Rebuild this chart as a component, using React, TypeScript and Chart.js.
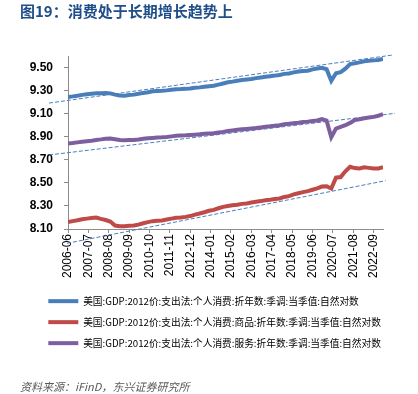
import React, { useEffect, useRef } from "react";
import { Chart, registerables } from "chart.js";

Chart.register(...registerables);

// Quarterly observations, 2006Q2 .. 2023Q1 (68 quarters); x = months since 2006-06
const startYear = 2006;
const startMonth = 6;
const quarterCount = 68;
const quarterMonths: number[] = Array.from({ length: quarterCount }, (_, i) => i * 3);

// ln of real PCE (2012 dollars)
const totalPCE: number[] = [
  9.245, 9.25, 9.256, 9.263, 9.268, 9.273, 9.277, 9.278, 9.28, 9.276,
  9.265, 9.258, 9.256, 9.262, 9.265, 9.272, 9.28, 9.286, 9.294, 9.297,
  9.298, 9.302, 9.307, 9.312, 9.313, 9.315, 9.318, 9.325, 9.328, 9.333,
  9.338, 9.342, 9.352, 9.362, 9.372, 9.378, 9.385, 9.392, 9.396, 9.4,
  9.408, 9.414, 9.42, 9.425, 9.43, 9.436, 9.445, 9.449, 9.458, 9.465,
  9.47, 9.472, 9.484, 9.491, 9.497, 9.485, 9.385, 9.45, 9.46, 9.49,
  9.53, 9.537, 9.545, 9.555, 9.558, 9.562, 9.566, 9.575,
];

const goodsPCE: number[] = [
  8.16, 8.168, 8.176, 8.185, 8.19, 8.195, 8.2, 8.188, 8.178, 8.165,
  8.13, 8.124, 8.124, 8.128, 8.13, 8.138, 8.15, 8.16, 8.168, 8.172,
  8.174, 8.182, 8.19, 8.198, 8.2, 8.205, 8.212, 8.225, 8.234, 8.245,
  8.258, 8.266, 8.28, 8.292, 8.3, 8.305, 8.31, 8.318, 8.322, 8.33,
  8.336, 8.342, 8.35, 8.354, 8.36, 8.365, 8.378, 8.385, 8.4, 8.41,
  8.42, 8.428, 8.44, 8.452, 8.468, 8.47, 8.45, 8.545, 8.55, 8.6,
  8.64, 8.628, 8.625, 8.635, 8.63, 8.625, 8.625, 8.635,
];

const servicesPCE: number[] = [
  8.842, 8.846, 8.851, 8.856, 8.861, 8.866, 8.872, 8.877, 8.883, 8.884,
  8.878, 8.872, 8.87, 8.871, 8.872, 8.876, 8.882, 8.887, 8.89, 8.893,
  8.895, 8.898, 8.903, 8.908, 8.91, 8.912, 8.915, 8.918, 8.921, 8.925,
  8.928, 8.93, 8.936, 8.942, 8.95, 8.955, 8.96, 8.964, 8.968, 8.972,
  8.976, 8.981, 8.986, 8.99, 8.995, 9.0, 9.008, 9.012, 9.017, 9.022,
  9.028, 9.031, 9.036, 9.041, 9.052, 9.04, 8.895, 8.97, 8.985, 9.0,
  9.02, 9.045, 9.052, 9.06, 9.066, 9.072, 9.082, 9.095,
];

// Trend lines: [month, value] endpoints
const trendTotal: number[][] = [[-12.1, 9.192], [207.4, 9.609]];
const trendServices: number[][] = [[-12.1, 8.742], [208.7, 9.103]];
const trendGoods: number[][] = [[-0.6, 7.976], [202.7, 8.519]];

const seriesNames: string[] = [
  "美国:GDP:2012价:支出法:个人消费:折年数:季调:当季值:自然对数",
  "美国:GDP:2012价:支出法:个人消费:商品:折年数:季调:当季值:自然对数",
  "美国:GDP:2012价:支出法:个人消费:服务:折年数:季调:当季值:自然对数",
];

const xTickMonths: number[] = [0, 13, 26, 39, 52, 65, 78, 91, 104, 117, 130, 143, 156, 169, 182, 195];
const yTickValues: number[] = [8.1, 8.3, 8.5, 8.7, 8.9, 9.1, 9.3, 9.5];

const titleText = "图19：消费处于长期增长趋势上";
const sourceText = "资料来源：iFinD，东兴证券研究所";

function monthLabel(m: number): string {
  const total = startMonth - 1 + m;
  const y = startYear + Math.floor(total / 12);
  const mo = (total % 12) + 1;
  return `${y}-${mo < 10 ? "0" + mo : mo}`;
}

function toPoints(vals: number[]) {
  return vals.map((v, i) => ({ x: quarterMonths[i], y: v }));
}

const legendShift = {
  id: "legendShift",
  afterLayout(chart: any) {
    if (chart.legend) {
      chart.legend.left = 37;
    }
  },
};

export default function App() {
  const ref = useRef<HTMLCanvasElement | null>(null);

  useEffect(() => {
    if (!ref.current) return;
    const trendStyle = {
      borderColor: "#4A7EBB",
      borderWidth: 1,
      borderDash: [4, 2],
      pointRadius: 0,
      fill: false,
      clip: false as any,
    };
    const chart = new Chart(ref.current, {
      type: "line",
      data: {
        datasets: [
          {
            label: seriesNames[0],
            data: toPoints(totalPCE),
            borderColor: "#4A7EBB",
            backgroundColor: "#4A7EBB",
            borderWidth: 4,
            pointRadius: 0,
            tension: 0,
          },
          {
            label: seriesNames[1],
            data: toPoints(goodsPCE),
            borderColor: "#BE4B48",
            backgroundColor: "#BE4B48",
            borderWidth: 4,
            pointRadius: 0,
            tension: 0,
          },
          {
            label: seriesNames[2],
            data: toPoints(servicesPCE),
            borderColor: "#7D5FA0",
            backgroundColor: "#7D5FA0",
            borderWidth: 4,
            pointRadius: 0,
            tension: 0,
          },
          { label: "trend1", data: trendTotal.map(([x, y]) => ({ x, y })), ...trendStyle },
          { label: "trend2", data: trendServices.map(([x, y]) => ({ x, y })), ...trendStyle },
          { label: "trend3", data: trendGoods.map(([x, y]) => ({ x, y })), ...trendStyle },
        ],
      },
      options: {
        responsive: false,
        animation: false,
        layout: { padding: { top: 56, left: 28, right: 0, bottom: 36 } },
        scales: {
          x: {
            type: "linear",
            min: 0,
            max: 201,
            afterBuildTicks: (s: any) => {
              s.ticks = xTickMonths.map((v) => ({ value: v }));
            },
            afterFit: (s: any) => {
              s.height = 56;
            },
            ticks: {
              autoSkip: false,
              minRotation: 90,
              maxRotation: 90,
              padding: 1,
              color: "#000",
              font: { family: "'Liberation Sans', Arial, sans-serif", size: 12 },
              callback: (v: any) => monthLabel(Number(v)),
            },
            grid: { drawOnChartArea: false, tickLength: 4, color: "#8c8c8c" },
            border: { display: true, color: "#8c8c8c", width: 1 },
          },
          y: {
            type: "linear",
            min: 8.1,
            max: 9.6,
            afterBuildTicks: (s: any) => {
              s.ticks = yTickValues.map((v) => ({ value: v }));
            },
            afterFit: (s: any) => {
              s.width = 40;
            },
            ticks: {
              padding: 11,
              color: "#000",
              font: { family: "'Liberation Sans', Arial, sans-serif", size: 12, weight: "bold" },
              callback: (v: any) => Number(v).toFixed(2),
            },
            grid: { drawOnChartArea: false, tickLength: 4, color: "#8c8c8c" },
            border: { display: true, color: "#8c8c8c", width: 1 },
          },
          yRightSpacer: {
            type: "linear",
            position: "right",
            display: true,
            min: 0,
            max: 1,
            afterFit: (s: any) => {
              s.width = 35;
            },
            ticks: { display: false },
            grid: { display: false, drawTicks: false },
            border: { display: false },
          },
        },
        plugins: {
          tooltip: { enabled: false },
          legend: {
            position: "bottom",
            align: "start",
            labels: {
              filter: (item: any) => item.datasetIndex < 3,
              usePointStyle: true,
              pointStyle: "line",
              pointStyleWidth: 30,
              padding: 11.3,
              color: "#000",
              font: { family: "'Noto Sans CJK SC', sans-serif", size: 9.7 },
            },
          },
        },
      } as any,
      plugins: [legendShift],
    });
    return () => chart.destroy();
  }, []);

  return (
    <div style={{ position: "fixed", left: 0, top: 0, width: 418, height: 394, background: "#fff", overflow: "hidden" }}>
      <canvas ref={ref} width={418} height={394} style={{ position: "absolute", left: 0, top: 0, display: "block" }} />
      <div
        style={{
          position: "absolute",
          left: 20,
          top: 3,
          fontFamily: "'Noto Sans CJK SC', sans-serif",
          fontWeight: "bold",
          fontSize: 15,
          lineHeight: "15px",
          color: "#1F4E89",
          whiteSpace: "nowrap",
        }}
      >
        {titleText}
      </div>
      <div
        style={{
          position: "absolute",
          left: 20,
          top: 381,
          fontFamily: "'Noto Sans CJK SC', sans-serif",
          fontStyle: "italic",
          fontSize: 11,
          lineHeight: "11px",
          color: "#595959",
          whiteSpace: "nowrap",
        }}
      >
        {sourceText}
      </div>
    </div>
  );
}
